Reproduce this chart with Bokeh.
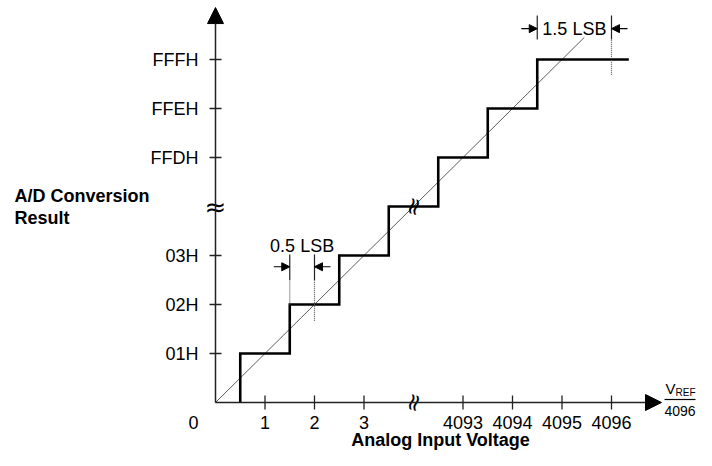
from bokeh.plotting import figure
from bokeh.models import Range1d, Arrow, NormalHead
from bokeh.core.properties import value
from bokeh.embed import file_html
from bokeh.resources import INLINE

# ---------------- data ----------------
x_tick_pos = [1, 2, 3, 5, 6, 7, 8]
x_tick_labels = ["1", "2", "3", "4093", "4094", "4095", "4096"]
y_tick_pos = [1, 2, 3, 5, 6, 7]
y_tick_labels = ["01H", "02H", "03H", "FFDH", "FFEH", "FFFH"]
break_pos = 4                      # position of the axis breaks
step_edges = [0.5, 1.5, 2.5, 3.5, 4.5, 5.5, 6.5]   # input where output code changes
step_codes = [1, 2, 3, 4, 5, 6, 7]
step_end = 8.35
ideal_end = 7.45
half_lsb = [1.5, 2.0]              # "0.5 LSB" dimension
one_half_lsb = [6.5, 8.0]          # "1.5 LSB" dimension
x_axis_end = 9.01
y_axis_end = 8.06

# ---------------- layout ----------------
W, H = 696, 450
SX, SY = 49.5, 49.0     # pixels per unit
X0, Y0 = 215, 402       # origin in canvas pixels (from left, from top)
FONT = value("Liberation Sans")

def ox(px):
    return px / SX

def oy(px):
    return px / SY

p = figure(width=W, height=H, output_backend="svg", toolbar_location=None,
           x_range=Range1d(-X0 / SX, (W - X0) / SX),
           y_range=Range1d(-(H - Y0) / SY, Y0 / SY),
           x_axis_location=None, y_axis_location=None,
           min_border=0, outline_line_color=None)
p.grid.visible = False
p.background_fill_color = "white"

# axes with arrow heads
p.add_layout(Arrow(end=NormalHead(size=16, fill_color="black", line_color="black", line_width=1),
                   x_start=0, y_start=0, x_end=0, y_end=y_axis_end,
                   line_color="#222222", line_width=1.5))
p.add_layout(Arrow(end=NormalHead(size=16, fill_color="black", line_color="black", line_width=1),
                   x_start=0, y_start=0, x_end=x_axis_end, y_end=0,
                   line_color="#222222", line_width=1.5))

# ticks
p.segment(x0=x_tick_pos, y0=[-oy(7)] * len(x_tick_pos), x1=x_tick_pos, y1=[oy(7)] * len(x_tick_pos),
          line_color="#222222", line_width=1.3)
p.segment(x0=[-ox(6)] * len(y_tick_pos), y0=y_tick_pos, x1=[ox(6)] * len(y_tick_pos), y1=y_tick_pos,
          line_color="#222222", line_width=1.3)

# tick labels
p.text(x=x_tick_pos, y=[-oy(20)] * len(x_tick_pos), text=x_tick_labels,
       text_font=FONT, text_font_size="18px", text_align="center", text_baseline="middle",
       text_color="black")
p.text(x=[-ox(17)] * len(y_tick_pos), y=y_tick_pos, text=y_tick_labels,
       text_font=FONT, text_font_size="18px", text_align="right", text_baseline="middle",
       text_color="black")
p.text(x=[-ox(22)], y=[-oy(20)], text=["0"], text_font=FONT, text_font_size="18px",
       text_align="center", text_baseline="middle", text_color="black")

# ideal transfer line
p.line(x=[0, ideal_end], y=[0, ideal_end], line_color="#333333", line_width=0.8)

# staircase transfer function
sx, sy = [], []
prev = 0
for e, c in zip(step_edges, step_codes):
    sx += [e, e]
    sy += [prev, c]
    prev = c
sx.append(step_end)
sy.append(prev)
p.line(x=sx, y=sy, line_color="black", line_width=2.6, line_join="miter")

# break symbols
p.text(x=[0], y=[break_pos], text=["\u2248"], text_font=value("DejaVu Sans"), text_font_size="26px",
       text_align="center", text_baseline="middle", text_color="black")
p.text(x=[break_pos, break_pos], y=[0, break_pos], text=["\u2248", "\u2248"],
       text_font=value("DejaVu Sans"), text_font_size="24px", angle=1.3,
       text_align="center", text_baseline="middle", text_color="black")

# ---- 0.5 LSB dimension ----
a, b = half_lsb
bar_lo, bar_hi = 2.5, 3.02
p.segment(x0=[a, b], y0=[bar_lo, bar_lo], x1=[a, b], y1=[bar_hi, bar_hi],
          line_color="#222222", line_width=1.2)
p.segment(x0=[a, b], y0=[2, 1.67], x1=[a, b], y1=[bar_lo, bar_lo],
          line_color="#555555", line_width=1.2, line_dash="1 1")
arr_y = 2.77
p.add_layout(Arrow(end=NormalHead(size=8, fill_color="black", line_color="black", line_width=1),
                   x_start=a - ox(16), y_start=arr_y, x_end=a, y_end=arr_y,
                   line_color="black", line_width=1.2))
p.add_layout(Arrow(end=NormalHead(size=8, fill_color="black", line_color="black", line_width=1),
                   x_start=b + ox(16), y_start=arr_y, x_end=b, y_end=arr_y,
                   line_color="black", line_width=1.2))
p.text(x=[(a + b) / 2], y=[bar_hi + oy(9)], text=["0.5 LSB"], text_font=FONT,
       text_font_size="18px", text_align="center", text_baseline="middle", text_color="black")

# ---- 1.5 LSB dimension ----
a, b = one_half_lsb
bar_lo, bar_hi = 7.41, 7.9
p.segment(x0=[a, b], y0=[bar_lo, bar_lo], x1=[a, b], y1=[bar_hi, bar_hi],
          line_color="#222222", line_width=1.2)
p.segment(x0=[b], y0=[6.69], x1=[b], y1=[bar_lo],
          line_color="#555555", line_width=1.2, line_dash="1 1")
arr_y = 7.63
p.add_layout(Arrow(end=NormalHead(size=8, fill_color="black", line_color="black", line_width=1),
                   x_start=a - ox(16), y_start=arr_y, x_end=a, y_end=arr_y,
                   line_color="black", line_width=1.2))
p.add_layout(Arrow(end=NormalHead(size=8, fill_color="black", line_color="black", line_width=1),
                   x_start=b + ox(16), y_start=arr_y, x_end=b, y_end=arr_y,
                   line_color="black", line_width=1.2))
p.text(x=[(a + b) / 2], y=[arr_y], text=["1.5 LSB"], text_font=FONT,
       text_font_size="18px", text_align="center", text_baseline="middle", text_color="black")

# ---- axis titles ----
p.text(x=[-ox(201)] * 2, y=[oy(207), oy(185)], text=["A/D Conversion", "Result"],
       text_font=FONT, text_font_size="18px", text_font_style="bold",
       text_align="left", text_baseline="middle", text_color="black")
p.text(x=[ox(225)], y=[-oy(37)], text=["Analog Input Voltage"],
       text_font=FONT, text_font_size="18px", text_font_style="bold",
       text_align="center", text_baseline="middle", text_color="black")

# ---- VREF / 4096 unit ----
p.text(x=[ox(450)], y=[oy(14)], text=["V"], text_font=FONT, text_font_size="15px",
       text_align="left", text_baseline="middle", text_color="black")
p.text(x=[ox(460)], y=[oy(10)], text=["REF"], text_font=FONT, text_font_size="10px",
       text_align="left", text_baseline="middle", text_color="black")
p.segment(x0=[ox(449)], y0=[oy(3)], x1=[ox(480)], y1=[oy(3)], line_color="black", line_width=1.2)
p.text(x=[ox(464.5)], y=[-oy(8)], text=["4096"], text_font=FONT, text_font_size="14px",
       text_align="center", text_baseline="middle", text_color="black")

open("out.html", "w").write(file_html(p, INLINE))
